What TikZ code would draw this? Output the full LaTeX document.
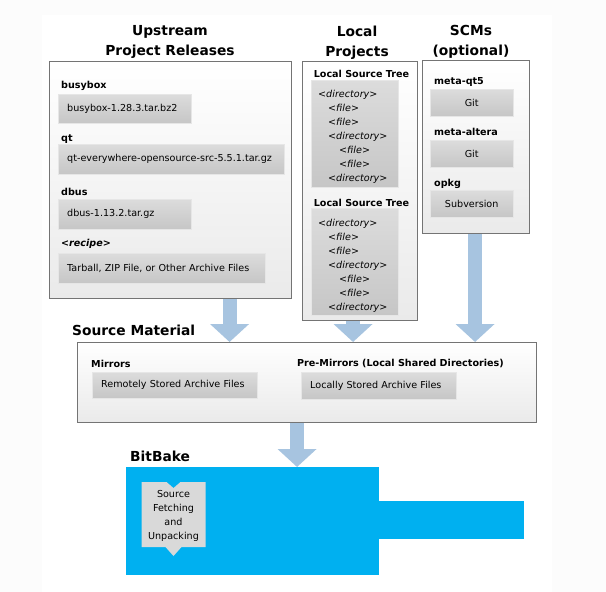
\documentclass[tikz,border=0pt]{standalone}
\usepackage{fontspec}
\setmainfont{DejaVu Sans}
\usetikzlibrary{arrows.meta,positioning}

\definecolor{pagegray}{HTML}{FCFCFC}
\definecolor{panelline}{HTML}{747474}
\definecolor{panelbottom}{HTML}{EAEAEA}
\definecolor{boxtop}{HTML}{DCDCDC}
\definecolor{boxbottom}{HTML}{C6C6C6}
\definecolor{boxline}{HTML}{E6E6E6}
\definecolor{arrowblue}{HTML}{A7C4E0}
\definecolor{bitblue}{HTML}{00B0F0}
\definecolor{fetchgray}{HTML}{D9D9D9}

\newcommand\ttlfont{\fontsize{13.8}{20}\selectfont\bfseries}
\newcommand\lblfont{\fontsize{9.6}{12}\selectfont\bfseries}
\newcommand\archfont{\fontsize{9.6}{12}\selectfont}

\tikzset{
  panel/.style={draw=panelline, line width=1.1pt, top color=white,
    bottom color=panelbottom, anchor=north west, inner sep=0pt},
  paneltitle/.style={font=\ttlfont, align=center, inner sep=0pt},
  itemlabel/.style={font=\lblfont, anchor=west, inner sep=0pt,
    text height=9pt, text depth=0pt},
  archive/.style={draw=boxline, top color=boxtop, bottom color=boxbottom,
    anchor=north west, font=\archfont, inner xsep=9pt, inner ysep=0pt,
    text width=#1, align=left},
  scmbox/.style={draw=boxline, top color=boxtop, bottom color=boxbottom,
    anchor=north west, font=\archfont, minimum width=83pt,
    minimum height=27pt, inner sep=0pt},
  treebox/.style={draw=boxline, top color=boxtop, bottom color=boxbottom,
    anchor=north west, minimum width=87pt, minimum height=107pt,
    inner sep=0pt},
  treeline/.style={font=\archfont\itshape, anchor=west, inner sep=0pt,
    text height=9pt, text depth=0pt},
  fatarrow/.style={draw=arrowblue, line width=14pt,
    -{Triangle[width=38pt,length=18pt]}},
}

\begin{document}
\begin{tikzpicture}[x=1pt,y=-1pt]
  \useasboundingbox (0,0) rectangle (606,592);
  \fill[pagegray] (0,0) rectangle (606,592);
  \fill[white] (42,15) rectangle (552,592);

  % upstream project releases
  \node[paneltitle] (upTitle) at (170,42) {Upstream\\Project Releases};
  \node[panel, minimum width=242pt, minimum height=237pt] (upstream) at (49,61) {};
  \node[itemlabel] (busyLbl) at (61,84) {busybox};
  \node[archive=115pt, minimum height=29pt] (busyBox) at (58,94) {busybox-1.28.3.tar.bz2};
  \node[itemlabel] (qtLbl) at (61,137) {qt};
  \node[archive=208pt, minimum height=30pt] (qtBox) at (58,144) {qt-everywhere-opensource-src-5.5.1.tar.gz};
  \node[itemlabel] (dbusLbl) at (61,191) {dbus};
  \node[archive=115pt, minimum height=30pt] (dbusBox) at (58,199) {dbus-1.13.2.tar.gz};
  \node[itemlabel] (recipeLbl) at (61,242) {\itshape <recipe>};
  \node[archive=189pt, minimum height=30pt] (recipeBox) at (58,253) {Tarball,~ZIP~File,~or~Other~Archive~Files};

  % local projects
  \node[paneltitle] (localTitle) at (357,43) {Local\\Projects};
  \node[panel, minimum width=115pt, minimum height=259pt] (local) at (302,61) {};
  \node[itemlabel, anchor=center] (treeLblA) at (361.5,73) {Local Source Tree};
  \node[treebox] (treeA) at (311,80) {};
  \node[itemlabel, anchor=center] (treeLblB) at (361.5,202) {Local Source Tree};
  \node[treebox] (treeB) at (311,208) {};
  \foreach \dx/\what [count=\i] in {0/directory,10/file,10/file,10/directory,21/file,21/file,10/directory}{
    \node[treeline] (tA-\i) at (318+\dx,79+14*\i) {<\what>};
    \node[treeline] (tB-\i) at (318+\dx,208+14*\i) {<\what>};
  }

  % scms
  \node[paneltitle] (scmTitle) at (471,42) {SCMs\\(optional)};
  \node[panel, minimum width=107pt, minimum height=173pt] (scm) at (422,60) {};
  \node[itemlabel] (qt5Lbl) at (434,80) {meta-qt5};
  \node[scmbox] (qt5Box) at (430,89) {Git};
  \node[itemlabel] (alteraLbl) at (434,131) {meta-altera};
  \node[scmbox] (alteraBox) at (430,140) {Git};
  \node[itemlabel] (opkgLbl) at (434,182) {opkg};
  \node[scmbox] (opkgBox) at (430,190) {Subversion};

  % source material
  \node[paneltitle, anchor=west] (srcTitle) at (72,330) {Source Material};
  \node[panel, minimum width=459pt, minimum height=80pt] (source) at (77,342) {};
  \node[itemlabel] (mirrorLbl) at (91,363) {Mirrors};
  \node[archive=147pt, minimum height=26pt] (mirrorBox) at (92,372) {Remotely~Stored~Archive~Files};
  \node[itemlabel] (preLbl) at (297,362) {Pre-Mirrors (Local Shared Directories)};
  \node[archive=137pt, minimum height=27pt] (preBox) at (301,372) {Locally~Stored~Archive~Files};

  % bitbake
  \node[paneltitle, anchor=west] (bbTitle) at (130,456) {BitBake};
  \node[fill=bitblue, anchor=north west, minimum width=253pt, minimum height=108pt, inner sep=0pt] (bitbake) at (126,467) {};
  \node[fill=bitblue, anchor=north west, minimum width=146pt, minimum height=38pt, inner sep=0pt] (bbTail) at (378,501) {};
  \fill[fetchgray] (141.5,482) -- (166.5,482) -- (173.5,488) -- (180.5,482) -- (205.5,482)
    -- (205.5,547) -- (181.5,547) -- (173.5,556) -- (165.5,547) -- (141.5,547) -- cycle;
  \node[font=\fontsize{9.6}{14}\selectfont, align=center, inner sep=0pt] (fetch) at (173.5,516) {Source\\Fetching\\and\\Unpacking};

  % arrows
  \draw[fatarrow] ([xshift=59pt]upstream.south) -- ([xshift=59pt]upstream.south |- source.north);
  \draw[fatarrow] ([xshift=-7pt]local.south) -- ([xshift=-7pt]local.south |- source.north);
  \draw[fatarrow] ([xshift=-1pt]scm.south) -- ([xshift=-1pt]scm.south |- source.north);
  \draw[fatarrow] ([xshift=-10pt]source.south) -- ([xshift=-10pt]source.south |- bitbake.north);
\end{tikzpicture}
\end{document}
